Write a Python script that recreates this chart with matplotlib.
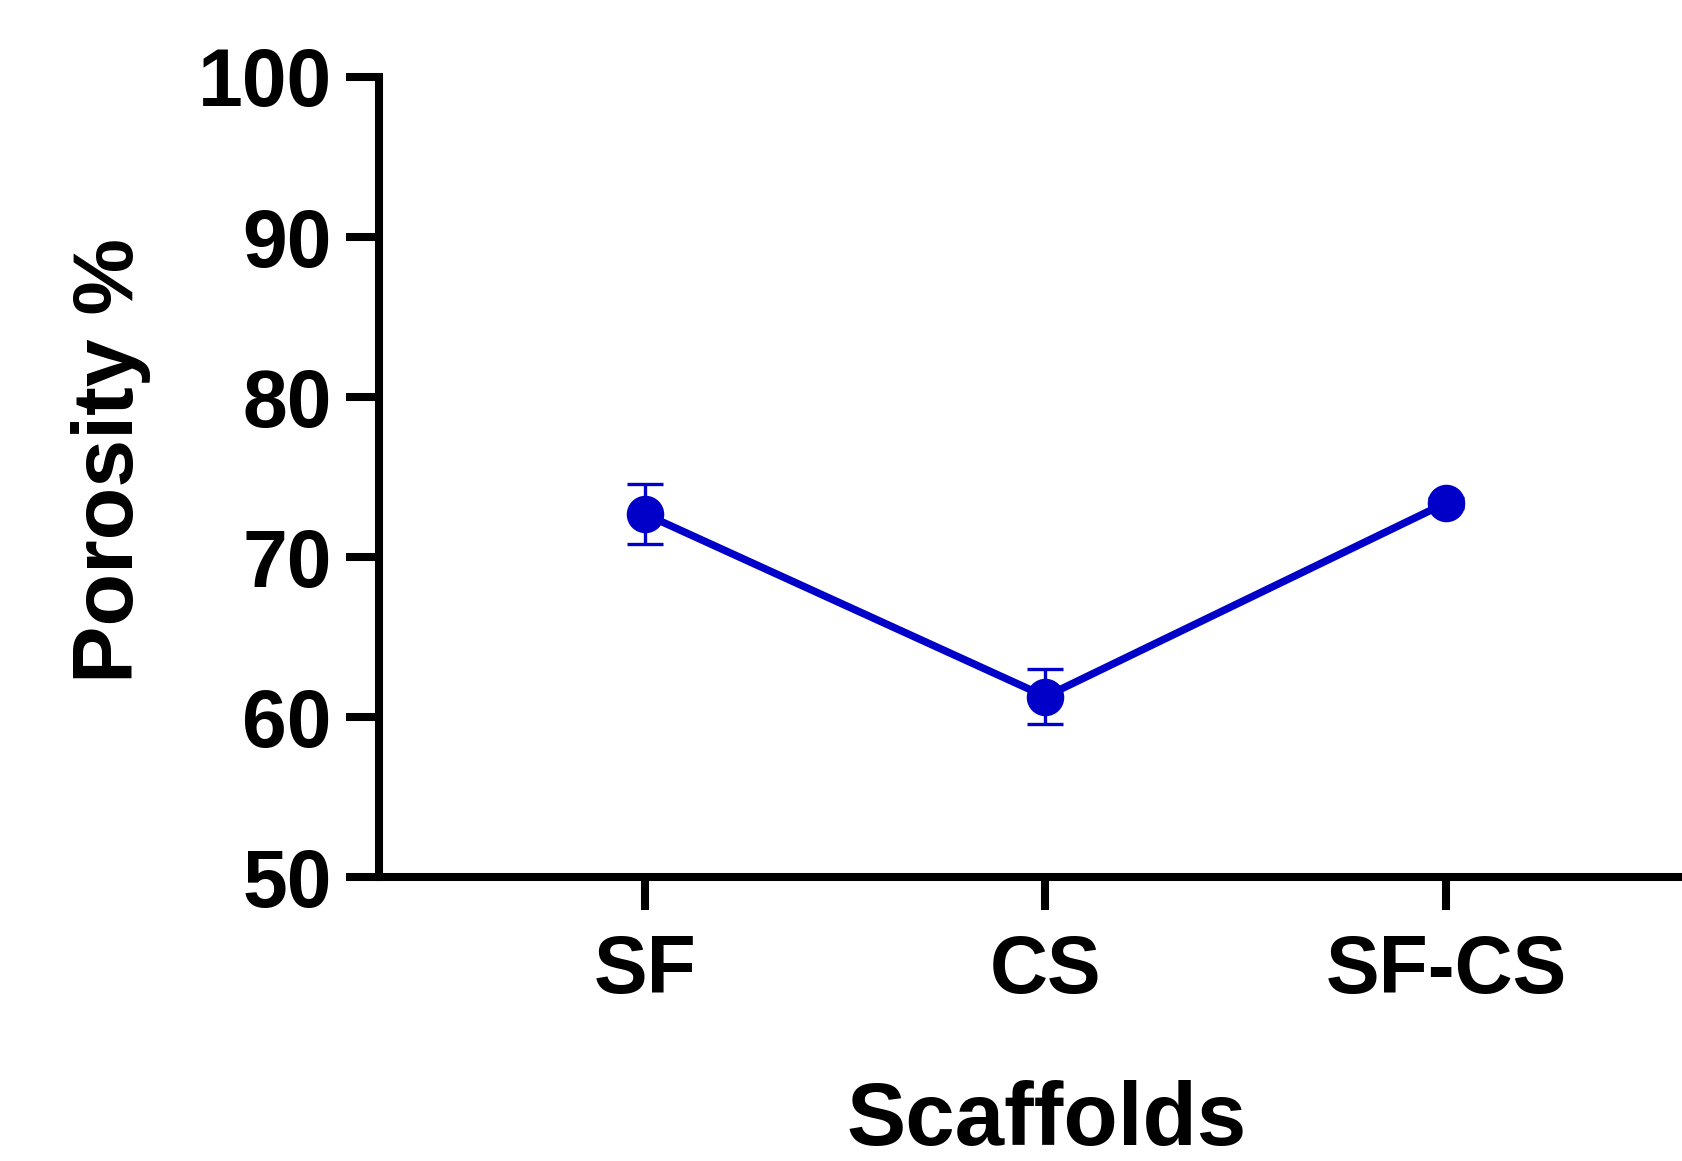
import matplotlib
matplotlib.use('Agg')
import matplotlib.pyplot as plt

# Données
scaffolds = ['SF', 'CS', 'SF-CS']
porosity = [72.7, 61.3, 73.4]
porosity_sd = [1.9, 1.7, 0.3]
y_ticks = [50, 60, 70, 80, 90, 100]

plt.rcParams['font.family'] = ['Liberation Sans', 'DejaVu Sans']
plt.rcParams['font.weight'] = 'bold'

fig = plt.figure(figsize=(16.82, 11.61), dpi=100)
ax = fig.add_axes([0.2253, 0.2442, 0.7747, 0.6895])

x = list(range(len(scaffolds)))
ax.errorbar(x, porosity, yerr=porosity_sd, color='#0000C8', lw=5.4,
            marker='o', ms=26, elinewidth=2.4, capsize=13, capthick=2.4,
            clip_on=False, zorder=3)

ax.set_xlim(-0.664, 2.589)
ax.set_ylim(50, 100)
ax.set_yticks(y_ticks)
ax.set_xticks(x)
ax.set_xticklabels(scaffolds)

for side in ['top', 'right']:
    ax.spines[side].set_visible(False)
for side in ['left', 'bottom']:
    ax.spines[side].set_linewidth(5.8)
    ax.spines[side].set_capstyle('projecting')

ax.tick_params(axis='both', length=24, width=5.8, labelsize=58)
ax.tick_params(axis='y', pad=10)
ax.tick_params(axis='x', pad=17)

fig.text(0.622, 0.034, 'Scaffolds', ha='center', va='center',
         fontsize=64, fontweight='bold')
fig.text(0.066, 0.603, 'Porosity %', ha='center', va='center',
         rotation=90, fontsize=62, fontweight='bold')

fig.savefig('out.png', dpi=100)
